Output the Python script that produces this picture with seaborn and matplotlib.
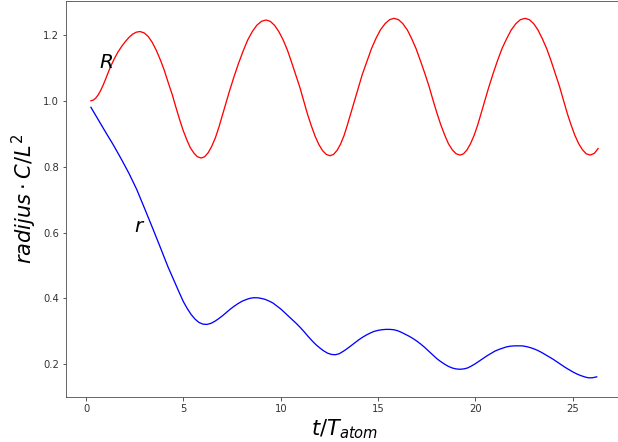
import matplotlib
matplotlib.use("Agg")
import matplotlib.pyplot as plt
import numpy as np
import pandas as pd
import seaborn as sns

# R (red)
t_R = [0.25, 0.375, 0.50, 0.625, 0.75, 0.875, 1.00, 1.125, 1.25,
       1.44, 1.63, 1.82, 2.01, 2.20, 2.39, 2.58, 2.77,
       2.98, 3.19, 3.39, 3.60, 3.81, 4.02, 4.22, 4.43,
       4.61, 4.80, 4.98, 5.17, 5.35, 5.54, 5.72, 5.91,
       6.09, 6.27, 6.45, 6.64, 6.82, 7.00, 7.18, 7.36,
       7.60, 7.83, 8.07, 8.30, 8.54, 8.77, 9.01, 9.245,
       9.46, 9.68, 9.90, 10.12, 10.34, 10.55, 10.77, 10.99,
       11.18, 11.37, 11.57, 11.76, 11.95, 12.14, 12.34, 12.53,
       12.71, 12.89, 13.07, 13.25, 13.42, 13.60, 13.78, 13.96,
       14.19, 14.43, 14.66, 14.89, 15.12, 15.36, 15.59, 15.82,
       16.05, 16.27, 16.50, 16.72, 16.95, 17.17, 17.40, 17.62,
       17.82, 18.02, 18.22, 18.42, 18.61, 18.81, 19.01, 19.21,
       19.39, 19.57, 19.75, 19.94, 20.12, 20.30, 20.48, 20.66,
       20.90, 21.13, 21.37, 21.61, 21.84, 22.08, 22.31, 22.55,
       22.77, 22.99, 23.21, 23.43, 23.66, 23.88, 24.10, 24.32,
       24.52, 24.71, 24.91, 25.10, 25.30, 25.50, 25.69, 25.89,
       26.10, 26.20, 26.30]
R_vals = [1.000, 1.002, 1.008, 1.018, 1.031, 1.047, 1.065, 1.084, 1.102,
          1.126, 1.147, 1.164, 1.179, 1.192, 1.202, 1.208, 1.210,
          1.206, 1.195, 1.178, 1.154, 1.125, 1.092, 1.055, 1.018,
          0.981, 0.944, 0.911, 0.882, 0.858, 0.841, 0.830, 0.826,
          0.830, 0.842, 0.861, 0.887, 0.919, 0.955, 0.992, 1.028,
          1.073, 1.113, 1.151, 1.184, 1.210, 1.229, 1.241, 1.245,
          1.241, 1.229, 1.210, 1.185, 1.154, 1.118, 1.079, 1.039,
          0.999, 0.960, 0.924, 0.893, 0.868, 0.849, 0.837, 0.833,
          0.837, 0.849, 0.868, 0.894, 0.926, 0.962, 0.999, 1.035,
          1.080, 1.120, 1.158, 1.189, 1.215, 1.234, 1.246, 1.250,
          1.246, 1.234, 1.215, 1.189, 1.158, 1.122, 1.083, 1.043,
          1.002, 0.963, 0.927, 0.896, 0.870, 0.851, 0.839, 0.835,
          0.839, 0.851, 0.870, 0.896, 0.927, 0.963, 1.000, 1.036,
          1.081, 1.121, 1.159, 1.189, 1.215, 1.234, 1.246, 1.250,
          1.246, 1.234, 1.215, 1.189, 1.158, 1.122, 1.083, 1.043,
          1.002, 0.963, 0.927, 0.896, 0.870, 0.851, 0.839, 0.835,
          0.840, 0.847, 0.855]

# r (blue)
t_r = [0.25, 0.6, 1.0, 1.4, 1.8, 2.2, 2.6, 3.0, 3.4, 3.8, 4.2, 4.6, 4.8,
       5.0, 5.2, 5.4, 5.6, 5.8, 6.0, 6.2, 6.4, 6.6, 6.8, 7.0, 7.2, 7.4,
       7.6, 7.8, 8.0, 8.2, 8.4, 8.6, 8.8, 9.0, 9.2, 9.4, 9.6, 9.8, 10.0,
       10.2, 10.4, 10.6, 10.8, 11.0, 11.2, 11.4, 11.6, 11.8, 12.0, 12.2,
       12.4, 12.6, 12.8, 13.0, 13.2, 13.4, 13.6, 13.8, 14.0, 14.2, 14.4,
       14.6, 14.8, 15.0, 15.2, 15.4, 15.6, 15.8, 16.0, 16.2, 16.4, 16.6,
       16.8, 17.0, 17.2, 17.4, 17.6, 17.8, 18.0, 18.2, 18.4, 18.6, 18.8,
       19.0, 19.2, 19.4, 19.6, 19.8, 20.0, 20.2, 20.4, 20.6, 20.8, 21.0,
       21.2, 21.4, 21.6, 21.8, 22.0, 22.2, 22.4, 22.6, 22.8, 23.0, 23.2,
       23.4, 23.6, 23.8, 24.0, 24.2, 24.4, 24.6, 24.8, 25.0, 25.2, 25.4,
       25.6, 25.8, 26.0, 26.23]
r_vals = [0.980, 0.945, 0.905, 0.866, 0.824, 0.780, 0.731, 0.674, 0.616,
          0.557, 0.497, 0.443, 0.416, 0.390, 0.369, 0.351, 0.337, 0.327,
          0.322, 0.321, 0.324, 0.330, 0.338, 0.347, 0.357, 0.367, 0.376,
          0.384, 0.391, 0.396, 0.400, 0.402, 0.402, 0.400, 0.397, 0.392,
          0.386, 0.377, 0.368, 0.357, 0.346, 0.335, 0.324, 0.312, 0.299,
          0.285, 0.272, 0.260, 0.250, 0.241, 0.234, 0.230, 0.229, 0.232,
          0.239, 0.247, 0.256, 0.265, 0.274, 0.282, 0.289, 0.295, 0.300,
          0.303, 0.305, 0.306, 0.306, 0.305, 0.302, 0.297, 0.291, 0.285,
          0.278, 0.270, 0.261, 0.251, 0.240, 0.229, 0.218, 0.209, 0.201,
          0.194, 0.189, 0.186, 0.185, 0.186, 0.189, 0.195, 0.202, 0.210,
          0.218, 0.226, 0.233, 0.240, 0.245, 0.249, 0.253, 0.255, 0.256,
          0.256, 0.256, 0.254, 0.251, 0.247, 0.242, 0.236, 0.229, 0.222,
          0.215, 0.207, 0.199, 0.191, 0.184, 0.177, 0.171, 0.166, 0.162,
          0.159, 0.159, 0.162]

df_R = pd.DataFrame({"t": t_R, "val": R_vals})
df_r = pd.DataFrame({"t": t_r, "val": r_vals})

fig = plt.figure(figsize=(618 / 72, 442 / 72), dpi=72)
ax = fig.add_axes([0.1068, 0.1025, 0.9013, 0.8952])

sns.lineplot(data=df_R, x="t", y="val", color="red", linewidth=1.3, ax=ax, sort=False)
sns.lineplot(data=df_r, x="t", y="val", color="blue", linewidth=1.3, ax=ax, sort=False)

ax.text(1.0, 1.117, "$R$", fontsize=20, ha="center", va="center")
ax.text(2.77, 0.618, "$r$", fontsize=20, ha="center", va="center")

ax.set_xlim(-1.03, 27.58)
ax.set_ylim(0.1017, 1.3026)
ax.set_xticks([0, 5, 10, 15, 20, 25])
ax.set_yticks([0.2, 0.4, 0.6, 0.8, 1.0, 1.2])
ax.tick_params(labelsize=10, colors="#333333")
for s in ax.spines.values():
    s.set_color("#444444")

ax.set_xlabel("$t/T_{atom}$", fontsize=21)
ax.set_ylabel(r"$radijus \cdot C/L^2$", fontsize=21)

fig.savefig("out.png", dpi=72)
